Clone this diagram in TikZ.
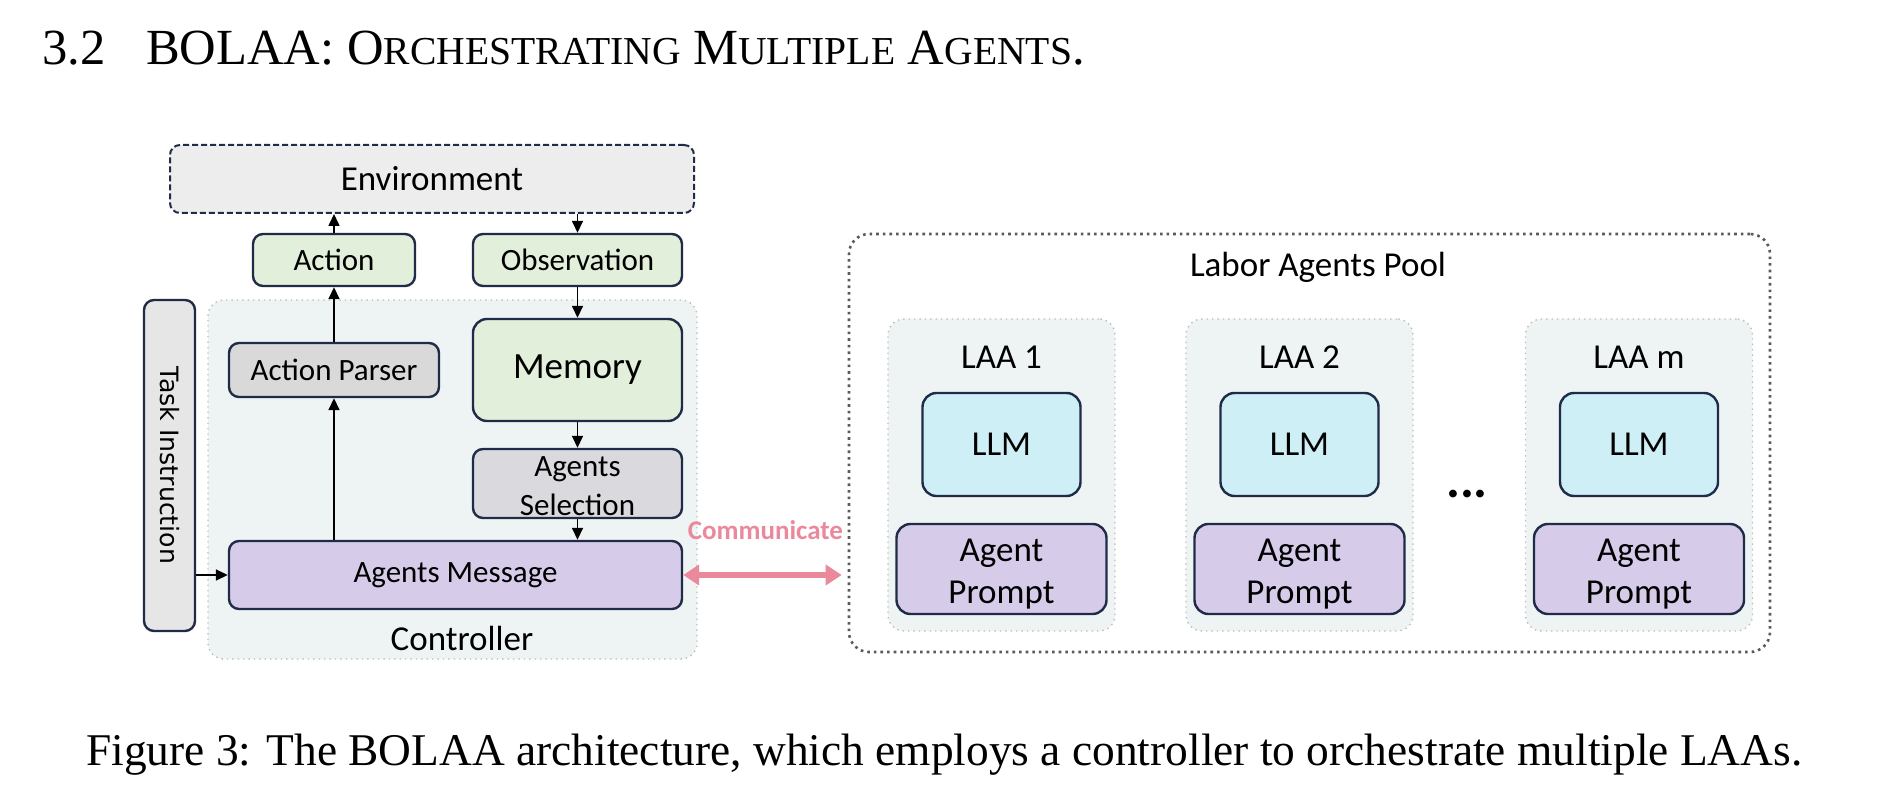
\documentclass[tikz,border=0pt]{standalone}
\usepackage{fontspec}
\setmainfont{Liberation Serif}
\newfontfamily\labelfont{Carlito}
\newfontfamily\taskfont{DejaVu Sans}
\usepackage{tikz}
\usetikzlibrary{arrows.meta,positioning}
\definecolor{navy}{HTML}{1F2B47}
\definecolor{envgray}{HTML}{EDEDED}
\definecolor{leafgreen}{HTML}{E2EFDA}
\definecolor{parsergray}{HTML}{D9D9D9}
\definecolor{selgray}{HTML}{DADADE}
\definecolor{taskgray}{HTML}{E6E6E6}
\definecolor{panel}{HTML}{EEF4F4}
\definecolor{lavender}{HTML}{D6CCEA}
\definecolor{llmcyan}{HTML}{CFEFF6}
\definecolor{commpink}{HTML}{EA899C}
\definecolor{dotgray}{HTML}{BDBDBD}
\definecolor{pooldot}{HTML}{5A5A5A}
\newcommand{\fakesc}[2]{#1{\fontsize{19.8}{22}\selectfont #2}}
\newcommand{\labelSize}{\fontsize{15.5}{18.5}\selectfont}
\newcommand{\bigSize}{\fontsize{17.5}{21}\selectfont}

\begin{document}
\begin{tikzpicture}[x=0.5pt, y=-0.5pt, line join=round,
	box/.style={draw=navy, line width=1.2pt, rounded corners=5pt, align=center, inner sep=0pt, font=\labelfont\labelSize},
	bigbox/.style={box, font=\labelfont\bigSize},
	panelbox/.style={draw=dotgray, dotted, line width=0.7pt, fill=panel, rounded corners=8pt, inner sep=0pt},
	caption/.style={anchor=base west, inner sep=0pt},
	flow/.style={-{Triangle[length=6pt,width=5.5pt]}, line width=0.8pt},
	comm/.style={{Triangle[length=8pt,width=10pt]}-{Triangle[length=8pt,width=10pt]}, draw=commpink, line width=3pt}]
	\useasboundingbox (0,0) rectangle (1878,806);
	% heading and caption
	\node[caption] (Heading) at (42,65) {\fontsize{25.3}{28}\selectfont 3.2\hspace{0.8em}BOLAA: \fakesc{O}{RCHESTRATING} \fakesc{M}{ULTIPLE} \fakesc{A}{GENTS}.};
	\node[caption] (Caption) at (86,765) {\fontsize{22.7}{25}\selectfont Figure 3: The BOLAA architecture, which employs a controller to orchestrate multiple LAAs.};
	% controller side
	\node[box, draw=navy, dash pattern=on 3pt off 1.5pt, line width=1pt, fill=envgray, font=\labelfont\bigSize,
		minimum width=262pt, minimum height=34pt] (Environment) at (432,179) {Environment};
	\node[box, fill=leafgreen, minimum width=81pt, minimum height=26pt] (Action) at (334,260) {Action};
	\node[box, fill=leafgreen, minimum width=104.5pt, minimum height=26pt] (Observation) at (577.5,260) {Observation};
	\node[panelbox, minimum width=244.5pt, minimum height=179.5pt] (Controller) at (452.5,479.5) {};
	\node[font=\labelfont\bigSize] (ControllerLabel) at (462,638) {Controller};
	\node[box, fill=taskgray, minimum width=25.5pt, minimum height=165.5pt] (TaskInstruction) at (169.5,465.5) {};
	\node[rotate=-90, font=\taskfont\fontsize{12.6}{14}\selectfont] (TaskText) at (TaskInstruction) {Task Instruction};
	\node[box, fill=parsergray, minimum width=105pt, minimum height=27pt] (ActionParser) at (334,370) {Action Parser};
	\node[bigbox, rounded corners=7pt, fill=leafgreen, minimum width=104.5pt, minimum height=51pt, font=\labelfont\fontsize{18.5}{21}\selectfont] (Memory) at (577.5,370) {Memory};
	\node[box, fill=selgray, minimum width=104.5pt, minimum height=34.5pt] (AgentsSelection) at (577.5,483.5) {\rule{0pt}{13pt}Agents\\[1pt]Selection};
	\node[box, fill=lavender, minimum width=226.5pt, minimum height=34pt] (AgentsMessage) at (455.5,575) {Agents Message};
	\draw[flow] (Action.north) -- (Action.north |- Environment.south);
	\draw[flow] (Environment.south -| Observation.north) -- (Observation.north);
	\draw[flow] (ActionParser.north) -- (Action.south);
	\draw[flow] (AgentsMessage.north -| ActionParser.south) -- (ActionParser.south);
	\draw[flow] (Observation.south) -- (Memory.north);
	\draw[flow] (Memory.south) -- (AgentsSelection.north);
	\draw[flow] (AgentsSelection.south) -- (AgentsSelection.south |- AgentsMessage.north);
	\draw[flow] (TaskInstruction.east |- AgentsMessage.west) -- (AgentsMessage.west);
	% labor agents
	\node[draw=pooldot, dotted, line width=1.3pt, rounded corners=10pt, minimum width=460.5pt, minimum height=209pt] (LaborPool) at (1309.5,443) {};
	\node[font=\labelfont\bigSize] (PoolLabel) at (1318,267) {Labor Agents Pool};
	\foreach \name/\cx in {1/1001.5, 2/1299.5, m/1639} {
		\node[panelbox, minimum width=113.5pt, minimum height=156pt] (LAA\name) at (\cx,475) {};
		\node[font=\labelfont\bigSize] (LAAlabel\name) at (\cx,357) {LAA \name};
		\node[bigbox, rounded corners=7pt, fill=llmcyan, minimum width=79pt, minimum height=51.5pt] (LLM\name) at (\cx,444.5) {LLM};
		\node[bigbox, rounded corners=7pt, fill=lavender, minimum width=105pt, minimum height=45pt] (Prompt\name) at (\cx,569) {\rule{0pt}{16pt}Agent\\Prompt};
	}
	\node[font=\labelfont\bfseries\fontsize{26}{28}\selectfont] (Dots) at (1467,494) {...};
	\draw[comm, shorten >=3pt] (AgentsMessage.east) -- (AgentsMessage.east -| LaborPool.west)
		node[midway, above=16pt, inner sep=0pt, text=commpink, font=\labelfont\bfseries\fontsize{13.5}{15}\selectfont] (CommLabel) {Communicate};
\end{tikzpicture}
\end{document}
